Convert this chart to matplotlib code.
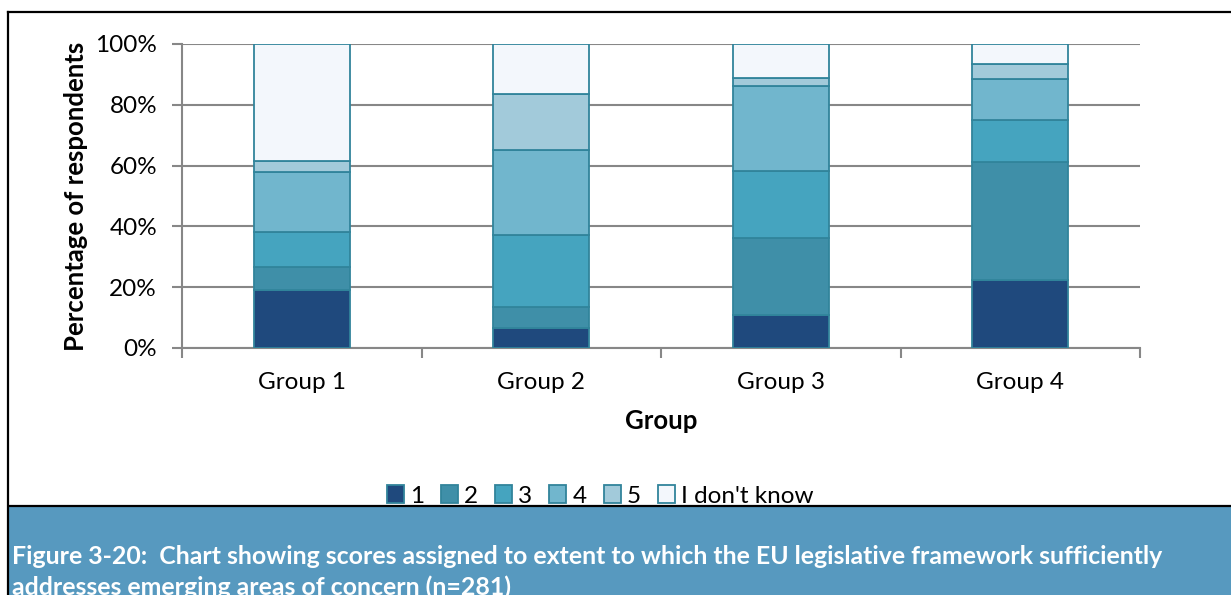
import matplotlib
matplotlib.use("Agg")
import matplotlib.pyplot as plt
from matplotlib.patches import Rectangle
from matplotlib.lines import Line2D
from matplotlib.ticker import PercentFormatter

plt.rcParams['font.family'] = ['Lato', 'DejaVu Sans']

# Share of respondents (%) giving each score, per group
groups = ["Group 1", "Group 2", "Group 3", "Group 4"]
score_labels = ["1", "2", "3", "4", "5", "I don't know"]
score_1 = [19.1, 6.7, 10.9, 22.4]
score_2 = [7.6, 6.8, 25.2, 38.9]
score_3 = [11.6, 23.7, 22.2, 13.7]
score_4 = [19.5, 27.9, 27.9, 13.6]
score_5 = [3.8, 18.3, 2.7, 4.8]
dont_know = [38.4, 16.6, 11.1, 6.6]
y_ticks = [0, 20, 40, 60, 80, 100]

series = [score_1, score_2, score_3, score_4, score_5, dont_know]
colors = ["#1F497D", "#3F8FA8", "#45A4BF", "#71B6CD", "#A2CADA", "#F3F7FC"]
edge = "#31849B"
grid_col = "#878787"

W, H = 1231, 595
fig = plt.figure(figsize=(W / 100, H / 100), dpi=100)

def fx(px):
    return px / W

def fy(py):
    return 1 - py / H

# Outer frame and caption band
fig.add_artist(Line2D([fx(8), 1], [fy(12), fy(12)], color="black", lw=1.6))
fig.add_artist(Line2D([fx(8), fx(8)], [fy(12), 0], color="black", lw=1.6))
fig.add_artist(Rectangle((fx(9), 0), 1 - fx(9), fy(507), color="#5799BF", lw=0))
fig.add_artist(Line2D([fx(9), 1], [fy(506), fy(506)], color="black", lw=1.6))
cap_kw = dict(color="white", fontsize=17.9, fontweight="bold", va="center", ha="left")
fig.text(fx(12), fy(556), "Figure 3-20:  Chart showing scores assigned to extent to which the EU legislative framework sufficiently", **cap_kw)
fig.text(fx(12), fy(587), "addresses emerging areas of concern (n=281)", **cap_kw)

ax = fig.add_axes([fx(182), fy(348), fx(1140) - fx(182), fy(44) - fy(348)])
x = list(range(len(groups)))
bottom = [0.0] * len(groups)
handles = []
for vals, col, lab in zip(series, colors, score_labels):
    b = ax.bar(x, vals, width=0.4, bottom=bottom, color=col, edgecolor=edge,
               linewidth=1.3, label=lab, zorder=3)
    handles.append(b)
    bottom = [b0 + v for b0, v in zip(bottom, vals)]

ax.set_xlim(-0.5, len(groups) - 0.5)
ax.set_ylim(0, 100)
ax.set_yticks(y_ticks)
ax.yaxis.set_major_formatter(PercentFormatter(decimals=0))
ax.grid(axis="y", color=grid_col, lw=1.5, zorder=0)
for s in ["top", "right"]:
    ax.spines[s].set_visible(False)
for s in ["left", "bottom"]:
    ax.spines[s].set_color(grid_col)
    ax.spines[s].set_linewidth(1.5)
    ax.spines[s].set_zorder(1)

ax.set_xticks(x)
ax.set_xticklabels(groups)
ax.set_xticks([i - 0.5 for i in range(len(groups) + 1)], minor=True)
ax.tick_params(axis="x", which="major", length=0, pad=17, labelsize=17.5)
ax.tick_params(axis="x", which="minor", length=7, width=1.5, color=grid_col, direction="out")
ax.tick_params(axis="y", length=7, width=1.5, color=grid_col, direction="out", pad=11, labelsize=17.5)

ax.set_xlabel("Group", fontsize=18.5, fontweight="bold", labelpad=12)
ax.set_ylabel("Percentage of respondents", fontsize=18.5, fontweight="bold", labelpad=5)

fig.legend(handles=handles, labels=score_labels, loc="center", bbox_to_anchor=(fx(600), fy(496)),
           ncol=6, frameon=False, fontsize=17.5, handlelength=0.7, handleheight=0.7,
           handletextpad=0.25, columnspacing=0.7, borderaxespad=0)

fig.savefig("out.png", dpi=100, facecolor="white")
